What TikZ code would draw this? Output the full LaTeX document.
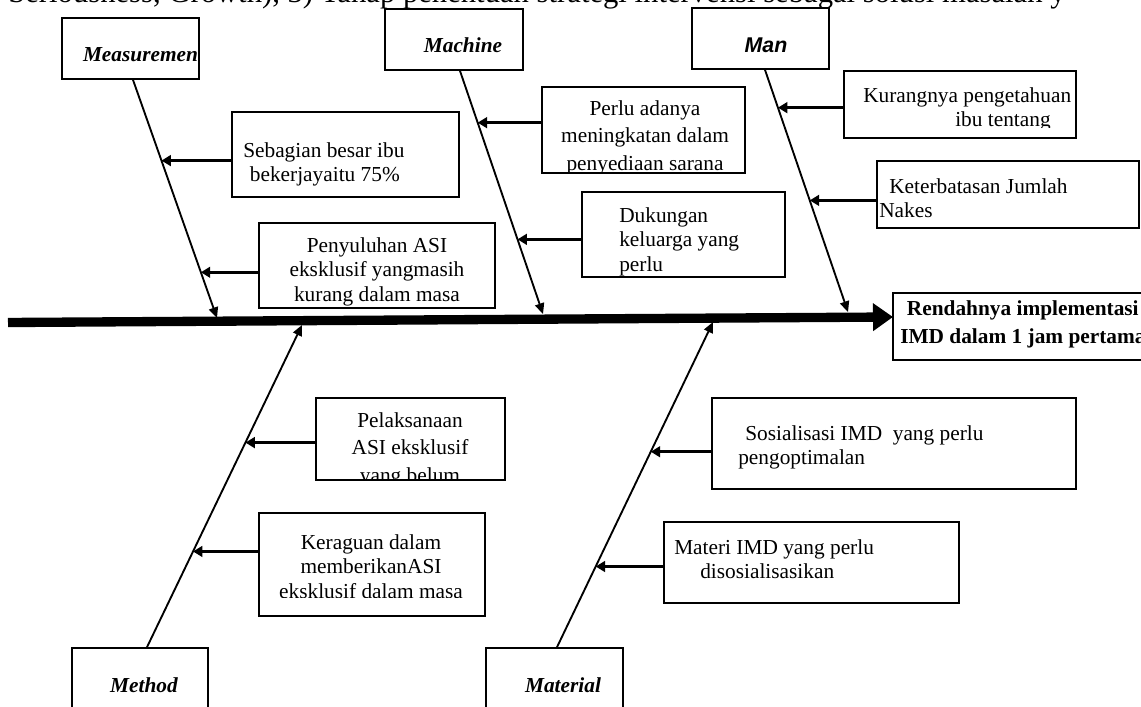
\documentclass[tikz,border=0pt]{standalone}
\usepackage{fontspec}
\setmainfont{Liberation Serif}
\newfontfamily\mansans{Liberation Sans}
\usetikzlibrary{arrows.meta, calc, fit}
\newcommand{\firstln}{\rule{0pt}{12pt}}
\tikzset{
    box/.style={draw, line width=1.3pt, inner sep=0pt},
    txt/.style={font=\fontsize{16}{18.5}\selectfont, inner sep=0pt, align=left},
    ctxt/.style={txt, align=center},
    cat/.style={font=\fontsize{16}{19}\selectfont\bfseries\itshape, inner sep=0pt, anchor=base},
    bone/.style={line width=1.4pt, -{Triangle[length=8pt, width=7pt]}},
    branch/.style={line width=2pt, -{Triangle[length=7pt, width=8pt]}},
    spine/.style={line width=7pt, -{Triangle[length=15pt, width=20pt]}}
}

\begin{document}
\begin{tikzpicture}[x=0.75pt, y=-0.75pt]
    \useasboundingbox (0,0) rectangle (1141,706);
    \clip (0,0) rectangle (1141,706);
    \node[anchor=base west, inner sep=0pt, font=\fontsize{23}{27}\selectfont] (caption) at (8,3) {Seriousness, Growth), 3) Tahap penentuan strategi intervensi sebagai solusi masalah y};

    % head of the fish
    \node[box, fit={(893,293) (1160,360)}] (effect) {};
    \node[txt, anchor=north west, font=\fontsize{16}{21}\selectfont\bfseries] (effecttxt) at (900,299) {\firstln\hspace*{5pt}Rendahnya implementasi\\IMD dalam 1 jam pertama};
    \coordinate (tail) at (8,322.5);
    \coordinate (head) at (893,317);
    \draw[spine] (tail) -- (head);

    % categories
    \node[box, fit={(62,18) (199,79)}] (meas) {};
    \node[cat] (meastxt) at (140.5,62) {Measuremen};
    \node[box, fit={(385,9) (523,70)}] (mach) {};
    \node[cat] (machtxt) at (463,53) {Machine};
    \node[box, fit={(692,8) (829,69)}] (man) {};
    \node[cat, font=\fontsize{16}{19}\selectfont\mansans\bfseries\itshape] (mantxt) at (766,53) {Man};
    \node[box, fit={(72,648) (208,720)}] (meth) {};
    \node[cat] (methtxt) at (144,692) {Method};
    \node[box, fit={(486,648) (623,720)}] (mat) {};
    \node[cat] (mattxt) at (563,692) {Material};

    % bones
    \coordinate (mtip) at (217,318);
    \coordinate (ktip) at (543,314);
    \coordinate (ntip) at (848,312);
    \coordinate (ttip) at (302,325);
    \coordinate (ltip) at (713,322);
    \draw[bone] ($(meas.south)+(2.5,0)$) coordinate (mtop) -- (mtip);
    \draw[bone] ($(mach.south)+(6,0)$) coordinate (ktop) -- (ktip);
    \draw[bone] ($(man.south)+(4.5,0)$) coordinate (ntop) -- (ntip);
    \draw[bone] ($(meth.north)+(7,0)$) coordinate (tbot) -- (ttip);
    \draw[bone] ($(mat.north)+(2.5,0)$) coordinate (lbot) -- (ltip);

    % Measuremen causes
    \node[box, fit={(232,112) (459,197)}] (sebagian) {};
    \node[txt, anchor=north west] (sebagiantxt) at (243,141) {\firstln Sebagian besar ibu\\\hspace*{5pt}bekerjayaitu 75\%};
    \node[box, fit={(259,223) (495,308)}] (penyuluhan) {};
    \node[ctxt, anchor=north] (penyuluhantxt) at (377,236) {\firstln Penyuluhan ASI\\eksklusif yangmasih\\kurang dalam masa};
    \coordinate (m1) at ($(mtop)!0.339!(mtip)$);
    \coordinate (m2) at ($(mtop)!0.808!(mtip)$);
    \draw[branch] (sebagian.west |- m1) -- (m1);
    \draw[branch] (penyuluhan.west |- m2) -- (m2);

    % Machine causes
    \node[box, fit={(542,87) (745,173)}] (perlu) {};
    \begin{scope}
        \clip (542,87) rectangle (745,172);
        \node[ctxt, anchor=north, font=\fontsize{16}{20.6}\selectfont] (perlutxt) at (645,99) {\firstln Perlu adanya\\meningkatan dalam\\penyediaan sarana};
    \end{scope}
    \node[box, fit={(582,192) (785,277)}] (dukungan) {};
    \node[txt, anchor=north west] (dukungantxt) at (619,206) {\firstln Dukungan\\keluarga yang\\perlu};
    \coordinate (k1) at ($(ktop)!0.213!(ktip)$);
    \coordinate (k2) at ($(ktop)!0.693!(ktip)$);
    \draw[branch] (perlu.west |- k1) -- (k1);
    \draw[branch] (dukungan.west |- k2) -- (k2);

    % Man causes
    \node[box, fit={(844,71) (1076,138)}] (kurang) {};
    \begin{scope}
        \clip (844,71) rectangle (1076,128);
        \node[txt, anchor=north west] (kurangtxt) at (863,86) {\firstln Kurangnya pengetahuan\\\hspace*{69pt}ibu tentang};
    \end{scope}
    \node[box, fit={(877,161) (1139,228)}] (nakes) {};
    \node[txt, anchor=north west] (nakestxt) at (879,177) {\firstln\hspace*{7.5pt}Keterbatasan Jumlah\\Nakes};
    \coordinate (n1) at ($(ntop)!0.156!(ntip)$);
    \coordinate (n2) at ($(ntop)!0.539!(ntip)$);
    \draw[branch] (kurang.west |- n1) -- (n1);
    \draw[branch] (nakes.west |- n2) -- (n2);

    % Method causes
    \node[box, fit={(316,398) (505,480)}] (pelaksanaan) {};
    \begin{scope}
        \clip (316,398) rectangle (505,478);
        \node[ctxt, anchor=north, font=\fontsize{16}{20.6}\selectfont] (pelaksanaantxt) at (410,411) {\firstln Pelaksanaan\\ASI eksklusif\\yang belum};
    \end{scope}
    \node[box, fit={(259,513) (485,616)}] (keraguan) {};
    \begin{scope}
        \clip (259,513) rectangle (485,597);
        \node[ctxt, anchor=north] (keraguantxt) at (371,533) {\firstln Keraguan dalam\\memberikanASI\\eksklusif dalam masa};
    \end{scope}
    \coordinate (t1) at ($(tbot)!0.635!(ttip)$);
    \coordinate (t2) at ($(tbot)!0.297!(ttip)$);
    \draw[branch] (pelaksanaan.west |- t1) -- (t1);
    \draw[branch] (keraguan.west |- t2) -- (t2);

    % Material causes
    \node[box, fit={(712,398) (1076,489)}] (sosialisasi) {};
    \node[txt, anchor=north west] (sosialisasitxt) at (738,424) {\firstln\hspace*{5.25pt}Sosialisasi IMD\ \ yang perlu\\pengoptimalan};
    \node[box, fit={(664,522) (959,603)}] (materi) {};
    \node[txt, anchor=north west] (materitxt) at (674,538) {\firstln Materi IMD yang perlu\\\hspace*{19.5pt}disosialisasikan};
    \coordinate (l1) at ($(lbot)!0.601!(ltip)$);
    \coordinate (l2) at ($(lbot)!0.248!(ltip)$);
    \draw[branch] (sosialisasi.west |- l1) -- (l1);
    \draw[branch] (materi.west |- l2) -- (l2);
\end{tikzpicture}
\end{document}
